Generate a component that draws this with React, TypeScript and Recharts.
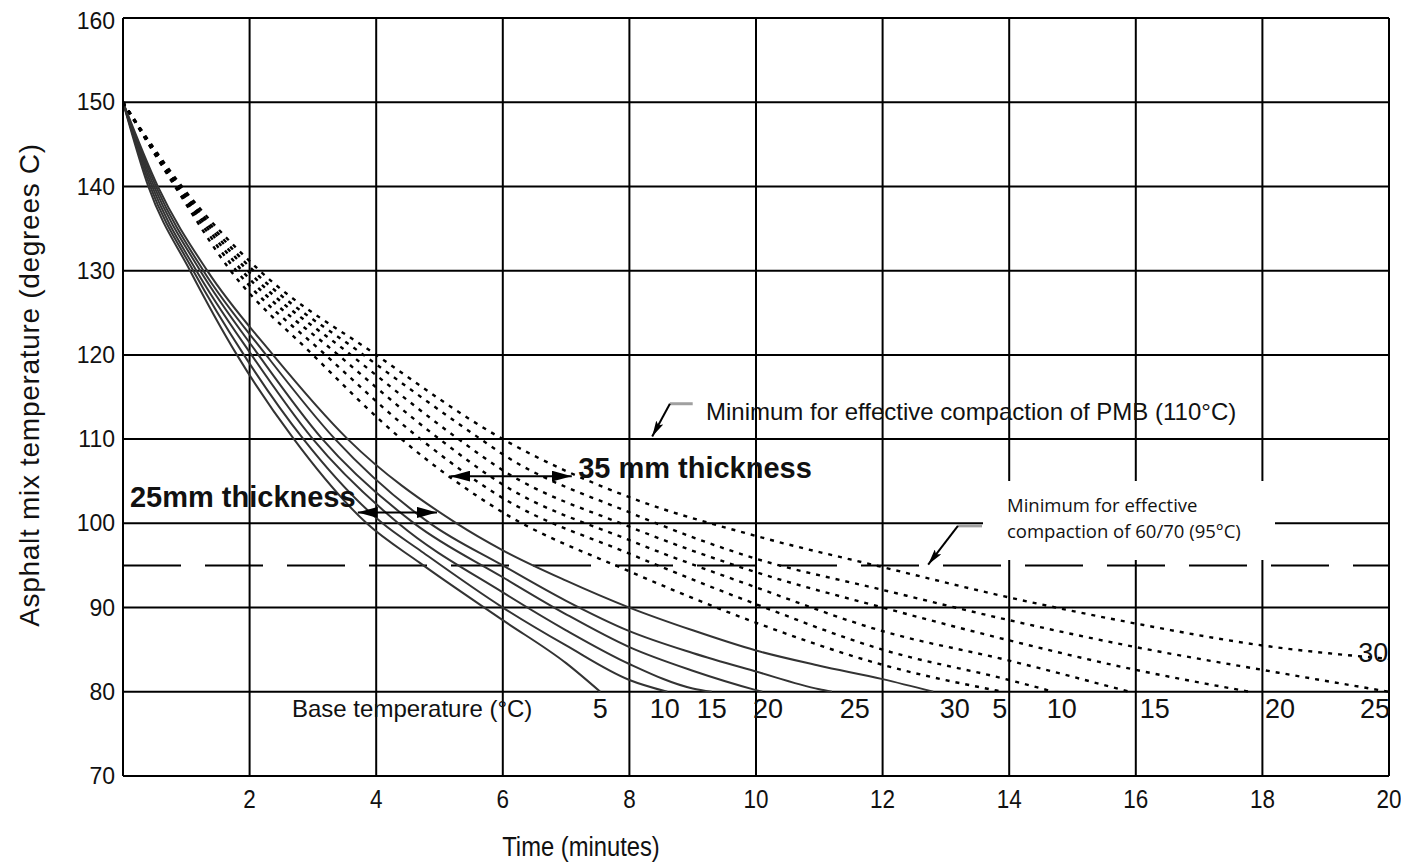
import { LineChart, Line, XAxis, YAxis, CartesianGrid, ReferenceLine, ReferenceDot } from 'recharts';

type Pt = [number, number];

// time (min), mix temperature (°C) — 25 mm layer, one curve per base temperature
const thin5: Pt[] = [[0, 150], [0.4, 140], [1.06, 130], [1.8, 120], [2.7, 110], [3.85, 100], [4.69, 95.3], [6, 88.5], [7, 83.4], [7.54, 80]];
const thin10: Pt[] = [[0, 150], [0.43, 140], [1.11, 130], [1.91, 120], [2.85, 110], [4.1, 100], [4.69, 96.8], [6, 90], [7, 85.5], [8, 81.4], [8.6, 80]];
const thin15: Pt[] = [[0, 150], [0.46, 140], [1.16, 130], [2.03, 120], [3.0, 110], [4.35, 100], [6, 91.8], [7, 87.3], [8, 83.3], [9, 80.4], [9.3, 80]];
const thin20: Pt[] = [[0, 150], [0.49, 140], [1.22, 130], [2.14, 120], [3.15, 110], [4.6, 100], [6, 93.6], [7, 89.2], [8, 85.3], [9, 82.5], [10, 80.2], [10.1, 80]];
const thin25: Pt[] = [[0, 150], [0.52, 140], [1.27, 130], [2.26, 120], [3.35, 110], [4.85, 100], [6, 95], [7, 90.8], [8, 87.2], [9, 84.6], [10, 82.4], [11, 80.3], [11.2, 80]];
const thin30: Pt[] = [[0, 150], [0.55, 140], [1.33, 130], [2.37, 120], [3.55, 110], [5.27, 100], [6, 96.8], [7, 93.2], [8, 90], [9, 87.3], [10, 84.9], [11, 83.1], [12, 81.5], [12.8, 80]];

// 35 mm layer (dotted)
const thick5: Pt[] = [[0, 150], [0.82, 140], [1.7, 130], [3.0, 120], [4.4, 110], [6, 101.3], [8, 94.3], [10, 88.2], [12, 83.2], [13.9, 80]];
const thick10: Pt[] = [[0, 150], [0.84, 140], [1.79, 130], [3.2, 120], [4.7, 110], [6, 103], [8, 96.4], [10, 90.4], [12, 85], [14, 81.4], [14.7, 80]];
const thick15: Pt[] = [[0, 150], [0.86, 140], [1.88, 130], [3.4, 120], [5.0, 110], [6, 104.6], [8, 98], [10, 92.4], [12, 87.2], [14, 83.7], [15.9, 80]];
const thick20: Pt[] = [[0, 150], [0.88, 140], [1.97, 130], [3.6, 120], [5.3, 110], [6, 106.3], [8, 99.6], [10, 94.2], [12, 90], [14, 86.1], [16, 82.6], [17.8, 80]];
const thick25: Pt[] = [[0, 150], [0.9, 140], [2.06, 130], [3.8, 120], [5.65, 110], [6, 108.2], [8, 101.3], [10, 95.8], [12, 92.1], [14, 88.5], [16, 85.3], [18, 82.6], [20, 80]];
const thick30: Pt[] = [[0, 150], [0.93, 140], [2.16, 130], [4.0, 120], [6, 110], [8, 103.1], [10, 98.5], [12, 94.8], [14, 91.2], [16, 88.1], [18, 85.5], [20, 83.9]];

const thinCurves = [thin5, thin10, thin15, thin20, thin25, thin30];
const thickCurves = [thick5, thick10, thick15, thick20, thick25, thick30];

const timeTicks = [2, 4, 6, 8, 10, 12, 14, 16, 18, 20];
const tempTicks = [70, 80, 90, 100, 110, 120, 130, 140, 150, 160];

// base temperature labels along the 80 °C line (text, time where it sits)
const baseLabels = ['5', '10', '15', '20', '25', '30', '5', '10', '15', '20', '25'];
const baseLabelTimes = [7.54, 8.56, 9.3, 10.19, 11.56, 13.14, 13.85, 14.83, 16.3, 18.28, 19.78];

const ARIAL = "'Liberation Sans', Arial, sans-serif";

const toPoints = (pts: Pt[]) => pts.map(([t, v]) => ({ t, v }));

// the original uses a condensed face for the time axis; squeeze Arial to match
function TimeTick(props: any) {
  const { x, y, payload } = props;
  const s = String(payload.value);
  return (
    <text
      x={x}
      y={y}
      dy="0.71em"
      textAnchor="middle"
      fill="#111"
      fontSize={26}
      fontFamily={ARIAL}
      textLength={s.length * 12.5}
      lengthAdjust="spacingAndGlyphs"
    >
      {s}
    </text>
  );
}

const arrowLine = (start: boolean, end: boolean, marker: string, stroke = '#000', width = 2) => (p: any) => (
  <line
    x1={p.x1}
    y1={p.y1}
    x2={p.x2}
    y2={p.y2}
    stroke={stroke}
    strokeWidth={width}
    markerStart={start ? `url(#${marker})` : undefined}
    markerEnd={end ? `url(#${marker})` : undefined}
  />
);

const note = (key: string, t: number, v: number, text: string, position: 'center' | 'right', fontSize: number, fontWeight = 'normal') => (
  <ReferenceDot
    key={key}
    x={t}
    y={v}
    r={0}
    fill="none"
    stroke="none"
    label={{ value: text, position, offset: 0, fill: '#111', fontSize, fontWeight, fontFamily: ARIAL }}
  />
);

export default function App() {
  return (
    <div style={{ position: 'relative', width: 1401, height: 856 }}>
      <style>{'html{overflow:hidden}'}</style>
      <svg width={0} height={0} style={{ position: 'absolute' }}>
        <defs>
          <marker id="arrow-head" viewBox="0 0 20 11" refX={20} refY={5.5} markerWidth={20} markerHeight={11} markerUnits="userSpaceOnUse" orient="auto-start-reverse">
            <path d="M0,0 L20,5.5 L0,11 Z" fill="#000" />
          </marker>
          <marker id="leader-head" viewBox="0 0 16 8" refX={16} refY={4} markerWidth={16} markerHeight={8} markerUnits="userSpaceOnUse" orient="auto-start-reverse">
            <path d="M0,0 L16,4 L0,8 L3,4 Z" fill="#000" />
          </marker>
        </defs>
      </svg>

      <LineChart width={1401} height={856} margin={{ top: 10, right: 20, bottom: 0, left: 0 }}>
        <CartesianGrid stroke="#000" strokeWidth={2} />
        <XAxis
          type="number"
          dataKey="t"
          domain={[0, 20]}
          ticks={timeTicks}
          allowDataOverflow
          height={88}
          axisLine={{ stroke: '#000', strokeWidth: 2 }}
          tickLine={false}
          tickMargin={8}
          tick={<TimeTick />}
        />
        <YAxis
          type="number"
          domain={[70, 160]}
          ticks={tempTicks}
          allowDataOverflow
          width={115}
          axisLine={{ stroke: '#000', strokeWidth: 2 }}
          tickLine={false}
          tick={{ fill: '#111', fontSize: 23, fontFamily: ARIAL }}
        />

        <ReferenceLine y={95} stroke="#000" strokeWidth={2} strokeDasharray="58 24" />

        {thinCurves.map((c, i) => (
          <Line
            key={`thin${i}`}
            data={toPoints(c)}
            dataKey="v"
            type="monotone"
            stroke="#333"
            strokeWidth={2}
            dot={false}
            activeDot={false}
            isAnimationActive={false}
          />
        ))}
        {thickCurves.map((c, i) => (
          <Line
            key={`thick${i}`}
            data={toPoints(c)}
            dataKey="v"
            type="monotone"
            stroke="#000"
            strokeWidth={2.4}
            strokeDasharray="4 6"
            dot={false}
            activeDot={false}
            isAnimationActive={false}
          />
        ))}

        {/* thickness arrows */}
        <ReferenceLine segment={[{ x: 3.71, y: 101.3 }, { x: 4.96, y: 101.3 }]} shape={arrowLine(true, true, 'arrow-head')} />
        <ReferenceLine segment={[{ x: 5.17, y: 105.6 }, { x: 7.09, y: 105.6 }]} shape={arrowLine(true, true, 'arrow-head')} />

        {/* leaders to the compaction limits */}
        <ReferenceLine segment={[{ x: 8.64, y: 114.2 }, { x: 9.0, y: 114.2 }]} shape={arrowLine(false, false, '', '#a0a0a0', 3)} />
        <ReferenceLine segment={[{ x: 8.64, y: 114.2 }, { x: 8.36, y: 110.3 }]} shape={arrowLine(false, true, 'leader-head')} />
        <ReferenceLine segment={[{ x: 13.19, y: 99.7 }, { x: 13.57, y: 99.7 }]} shape={arrowLine(false, false, '', '#a0a0a0', 3)} />
        <ReferenceLine segment={[{ x: 13.19, y: 99.7 }, { x: 12.72, y: 95.1 }]} shape={arrowLine(false, true, 'leader-head')} />

        {note('pmb', 9.21, 113.3, 'Minimum for effective compaction of PMB (110°C)', 'right', 24)}
        {note('t35', 7.19, 106.6, '35 mm thickness', 'right', 29, 'bold')}
        {note('t25', 0.11, 103.2, '25mm thickness', 'right', 29, 'bold')}
        {note('base', 2.67, 78.05, 'Base temperature (°C)', 'right', 24)}
        {baseLabels.map((b, i) => note(`b${i}`, baseLabelTimes[i], 78.0, b, 'center', 27))}
        {note('b30', 19.75, 84.7, '30', 'center', 27)}
      </LineChart>

      {/* pasted text box over the grid */}
      <div
        style={{
          position: 'absolute',
          left: 975,
          top: 473,
          width: 292,
          height: 79,
          background: '#fff',
        }}
      />
      <div
        style={{
          position: 'absolute',
          left: 999,
          top: 484,
          fontFamily: "'Open Sans', sans-serif",
          fontSize: 18.5,
          lineHeight: '26px',
          color: '#111',
          whiteSpace: 'nowrap',
        }}
      >
        Minimum for effective
        <br />
        compaction of 60/70 (95°C)
      </div>

      <div
        style={{
          position: 'absolute',
          left: 573,
          top: 839,
          transform: 'translate(-50%, -50%) scaleX(0.88)',
          fontFamily: ARIAL,
          fontSize: 27,
          color: '#111',
          whiteSpace: 'nowrap',
        }}
      >
        Time (minutes)
      </div>
      <div
        style={{
          position: 'absolute',
          left: 22,
          top: 377,
          transform: 'translate(-50%, -50%) rotate(-90deg)',
          fontFamily: ARIAL,
          fontSize: 28,
          letterSpacing: 0.7,
          color: '#111',
          whiteSpace: 'nowrap',
        }}
      >
        Asphalt mix temperature (degrees C)
      </div>
    </div>
  );
}
